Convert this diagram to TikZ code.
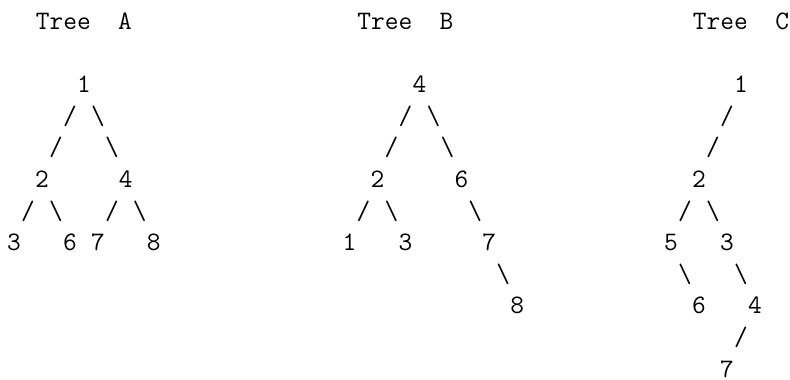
\documentclass[tikz,border=0pt]{standalone}
\usepackage{fontspec}
\tikzset{tt/.style={anchor=base,inner sep=0pt,outer sep=0pt,font=\ttfamily\fontsize{26.63pt}{31.6pt}\selectfont}}
\newcommand\pch[4]{\node[tt] (#1) at ({14pt+13.98pt*(#2)},{-29.5pt-31.6pt*(#3)}) {#4};}
\newcommand\bs{\textbackslash}
\begin{document}
\begin{tikzpicture}
\useasboundingbox (0,0) rectangle (790pt,-380pt);
% Tree A
\pch{tA}{5}{0}{Tree\ \ A}
\pch{a1}{5}{2}{1}
\pch{a1l}{4}{3}{/}\pch{a1r}{6}{3}{\bs}
\pch{a1ll}{3}{4}{/}\pch{a1rr}{7}{4}{\bs}
\pch{a2}{2}{5}{2}\pch{a4}{8}{5}{4}
\pch{a2l}{1}{6}{/}\pch{a2r}{3}{6}{\bs}\pch{a4l}{7}{6}{/}\pch{a4r}{9}{6}{\bs}
\pch{a3}{0}{7}{3}\pch{a6}{4}{7}{6}\pch{a7}{6}{7}{7}\pch{a8}{10}{7}{8}
% Tree B
\pch{tB}{28}{0}{Tree\ \ B}
\pch{b4}{29}{2}{4}
\pch{b4l}{28}{3}{/}\pch{b4r}{30}{3}{\bs}
\pch{b4ll}{27}{4}{/}\pch{b4rr}{31}{4}{\bs}
\pch{b2}{26}{5}{2}\pch{b6}{32}{5}{6}
\pch{b2l}{25}{6}{/}\pch{b2r}{27}{6}{\bs}\pch{b6r}{33}{6}{\bs}
\pch{b1}{24}{7}{1}\pch{b3}{28}{7}{3}\pch{b7}{34}{7}{7}
\pch{b7r}{35}{8}{\bs}
\pch{b8}{36}{9}{8}
% Tree C
\pch{tC}{52}{0}{Tree\ \ C}
\pch{c1}{52}{2}{1}
\pch{c1l}{51}{3}{/}
\pch{c1ll}{50}{4}{/}
\pch{c2}{49}{5}{2}
\pch{c2l}{48}{6}{/}\pch{c2r}{50}{6}{\bs}
\pch{c5}{47}{7}{5}\pch{c3}{51}{7}{3}
\pch{c5r}{48}{8}{\bs}\pch{c3r}{52}{8}{\bs}
\pch{c6}{49}{9}{6}\pch{c4}{53}{9}{4}
\pch{c4l}{52}{10}{/}
\pch{c7}{51}{11}{7}
\end{tikzpicture}
\end{document}
